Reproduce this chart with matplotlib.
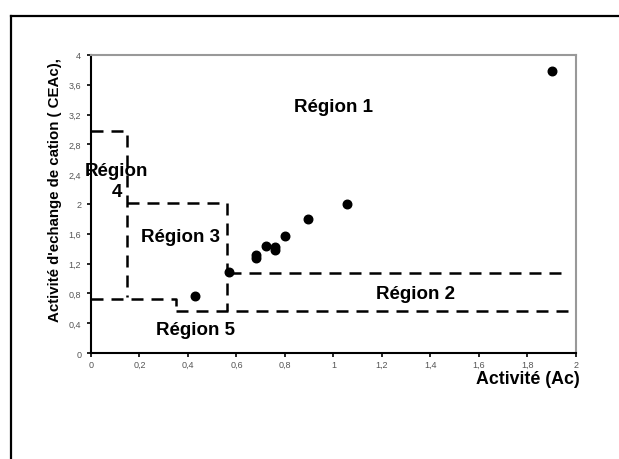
import matplotlib
matplotlib.use("Agg")
import matplotlib.pyplot as plt
from matplotlib.lines import Line2D
from matplotlib.ticker import FuncFormatter

plt.rcParams['font.family'] = ['Liberation Sans', 'DejaVu Sans']

# data points (Ac, CEAc)
ac = [0.43, 0.57, 0.68, 0.68, 0.72, 0.76, 0.76, 0.80, 0.895, 1.055, 1.90]
ceac = [0.76, 1.09, 1.32, 1.27, 1.43, 1.42, 1.38, 1.57, 1.80, 2.00, 3.79]

# dashed region boundaries (x list, y list)
region4_x = [0, 0.15, 0.15]
region4_y = [2.98, 2.98, 0.75]
region3_x = [0.15, 0.56, 0.56]
region3_y = [2.01, 2.01, 0.56]
region5_x = [0, 0.34, 0.35, 0.35]
region5_y = [0.72, 0.72, 0.72, 0.56]
region2_top_x = [0.57, 1.97]
region2_top_y = [1.08, 1.08]
region2_bot_x = [0.35, 2.0]
region2_bot_y = [0.56, 0.56]

labels = ["Région 1", "Région 2", "Région 3", "Région\n4", "Région 5"]
label_x = [1.0, 1.34, 0.37, 0.105, 0.43]
label_y = [3.31, 0.80, 1.57, 2.31, 0.32]

fig = plt.figure(figsize=(6.19, 4.6), dpi=100)
ax = fig.add_axes([0.147, 0.2304, 0.7835, 0.648])

ax.scatter(ac, ceac, s=38, color='black', zorder=3)

dash = dict(color='black', lw=1.8, dashes=(4.8, 3.2), clip_on=False)
for xs, ys in [(region4_x, region4_y), (region3_x, region3_y), (region5_x, region5_y),
               (region2_top_x, region2_top_y), (region2_bot_x, region2_bot_y)]:
    ax.plot(xs, ys, **dash)

for t, x, y in zip(labels, label_x, label_y):
    ax.text(x, y, t, ha='center', va='center', fontsize=13.5, fontweight='bold',
            linespacing=1.3)

ax.set_xlim(0, 2)
ax.set_ylim(0, 4)
ax.set_xticks([0, 0.2, 0.4, 0.6, 0.8, 1, 1.2, 1.4, 1.6, 1.8, 2])
ax.set_yticks([0, 0.4, 0.8, 1.2, 1.6, 2, 2.4, 2.8, 3.2, 3.6, 4])
fmt = FuncFormatter(lambda v, p: ('%g' % round(v, 2)).replace('.', ','))
ax.xaxis.set_major_formatter(fmt)
ax.yaxis.set_major_formatter(fmt)
ax.tick_params(labelsize=6.5, labelcolor='#555555', length=3, width=1.2,
               direction='out', pad=4)
ax.tick_params(axis='x', pad=2)

for s in ['left', 'bottom']:
    ax.spines[s].set_color('black')
    ax.spines[s].set_linewidth(1.5)
for s in ['top', 'right']:
    ax.spines[s].set_color('#999999')
    ax.spines[s].set_linewidth(1.5)

ax.set_xlabel('Activité (Ac)', fontsize=12.8, fontweight='bold')
ax.xaxis.set_label_coords(1.008, -0.085)
ax.xaxis.label.set_ha('right')
ax.xaxis.label.set_va('center')
ax.set_ylabel("Activité d'echange de cation ( CEAc),", fontsize=10.8, fontweight='bold')
ax.yaxis.set_label_coords(-0.06, 0.55)

# outer frame (only top and left visible)
fig.add_artist(Line2D([11 / 619, 11 / 619], [0, 1 - 17 / 460], color='black', lw=1.6))
fig.add_artist(Line2D([11 / 619, 1], [1 - 17 / 460, 1 - 17 / 460], color='black', lw=1.6))

fig.savefig('out.png', dpi=100)
